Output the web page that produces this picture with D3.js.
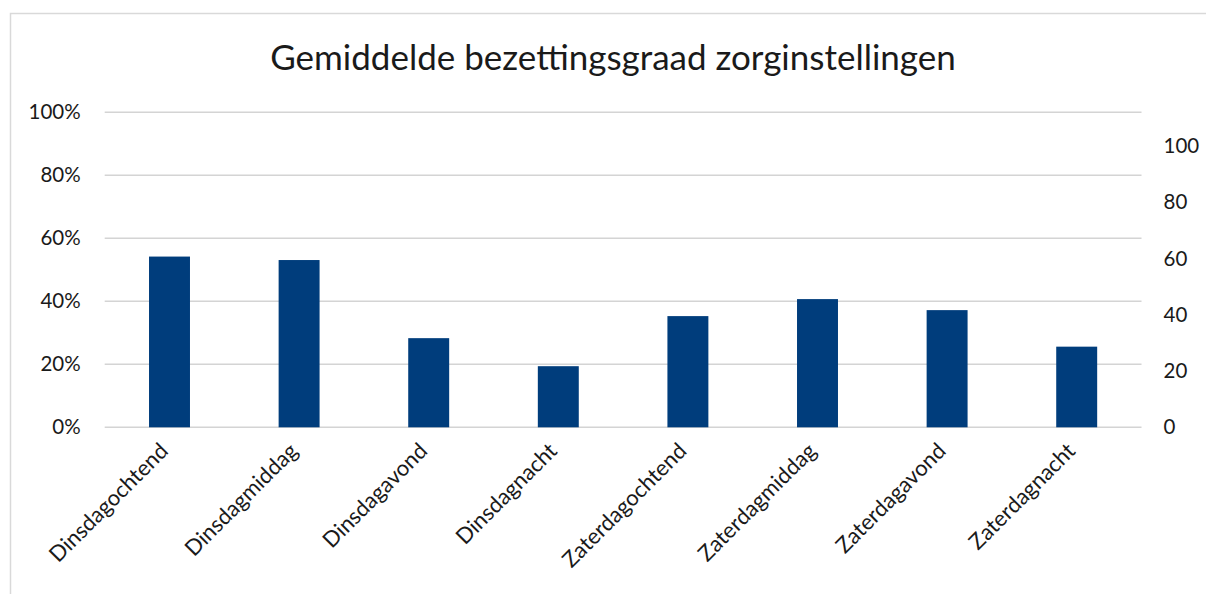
<!DOCTYPE html>
<html>
<head>
<meta charset="utf-8">
<script src="https://cdn.jsdelivr.net/npm/d3@7.9.0/dist/d3.min.js"></script>
<style>
  body { margin: 0; background: #fff; }
  svg { display: block; font-family: Lato, "Open Sans", sans-serif; }
</style>
</head>
<body>
<svg id="chart" width="1206" height="594"></svg>
<script>
// data
const categories = ['Dinsdagochtend', 'Dinsdagmiddag', 'Dinsdagavond', 'Dinsdagnacht',
  'Zaterdagochtend', 'Zaterdagmiddag', 'Zaterdagavond', 'Zaterdagnacht'];
const occupancy = [0.542, 0.531, 0.283, 0.194, 0.353, 0.407, 0.372, 0.256];
const leftTicks = [0, 0.2, 0.4, 0.6, 0.8, 1.0];
const rightTicks = [0, 20, 40, 60, 80, 100];
const title = 'Gemiddelde bezettingsgraad zorginstellingen';

const width = 1206, height = 594;
const margin = { top: 112.3, right: 64.5, bottom: 166.7, left: 104.7 };

const svg = d3.select('#chart');

// outer chart frame (runs off the right/bottom edge like the source)
svg.append('rect')
  .attr('x', 10.5).attr('y', 13.5)
  .attr('width', 1220).attr('height', 620)
  .attr('fill', 'none')
  .attr('stroke', '#d9d9d9')
  .attr('stroke-width', 1.5);

const x = d3.scaleBand()
  .domain(categories)
  .range([margin.left, width - margin.right])
  .paddingInner(0.684)
  .paddingOuter(0.342);

const y = d3.scaleLinear()
  .domain([0, 1])
  .range([height - margin.bottom, margin.top]);

// secondary axis on the right has its own range
const y2 = d3.scaleLinear()
  .domain([0, 112])
  .range([height - margin.bottom, margin.top]);

// gridlines
svg.append('g')
  .selectAll('line')
  .data(leftTicks)
  .join('line')
  .attr('x1', margin.left)
  .attr('x2', width - margin.right)
  .attr('y1', (d) => y(d))
  .attr('y2', (d) => y(d))
  .attr('stroke', '#d4d4d4')
  .attr('stroke-width', 1.6);

// bars
svg.append('g')
  .selectAll('rect')
  .data(occupancy)
  .join('rect')
  .attr('x', (d, i) => x(categories[i]))
  .attr('width', x.bandwidth())
  .attr('y', (d) => y(d))
  .attr('height', (d) => y(0) - y(d))
  .attr('fill', '#003d7c');

// left axis
const leftAxis = svg.append('g')
  .attr('transform', `translate(${margin.left - 24},0)`)
  .call(d3.axisLeft(y).tickValues(leftTicks).tickFormat(d3.format('.0%')).tickSize(0).tickPadding(0));
leftAxis.select('.domain').remove();
leftAxis.selectAll('text')
  .attr('font-size', 20.5)
  .attr('font-family', 'Lato, sans-serif')
  .attr('fill', '#1a1a1a');

// right axis
const rightAxis = svg.append('g')
  .attr('transform', `translate(${width - margin.right + 22},0)`)
  .call(d3.axisRight(y2).tickValues(rightTicks).tickSize(0).tickPadding(0));
rightAxis.select('.domain').remove();
rightAxis.selectAll('text')
  .attr('font-size', 20.5)
  .attr('font-family', 'Lato, sans-serif')
  .attr('fill', '#1a1a1a');

// category labels, rotated
const xAxis = svg.append('g')
  .attr('transform', `translate(0,${height - margin.bottom})`)
  .call(d3.axisBottom(x).tickSize(0).tickPadding(0));
xAxis.select('.domain').remove();
xAxis.selectAll('text')
  .attr('font-size', 22)
  .attr('font-family', 'Lato, sans-serif')
  .attr('fill', '#1a1a1a')
  .attr('text-anchor', 'end')
  .attr('dy', null)
  .attr('transform', 'translate(0,25) rotate(-45)');

// title
svg.append('text')
  .attr('x', 613)
  .attr('y', 70)
  .attr('text-anchor', 'middle')
  .attr('font-size', 35)
  .attr('fill', '#1a1a1a')
  .text(title);
</script>
</body>
</html>
